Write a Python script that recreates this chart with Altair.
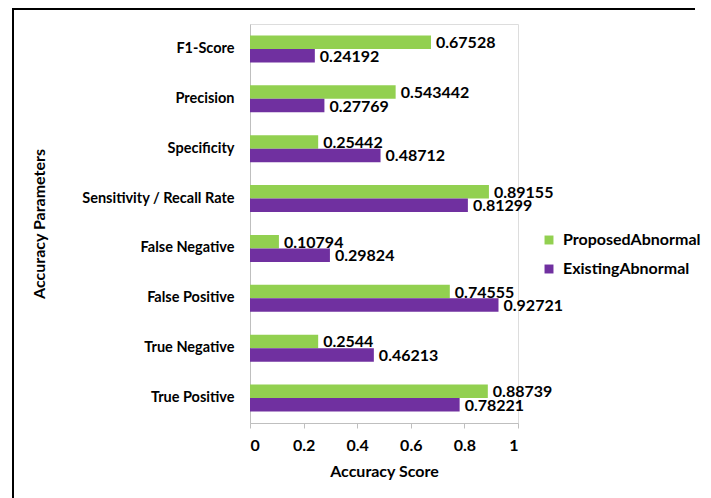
import altair as alt
import pandas as pd

categories = ["F1-Score", "Precision", "Specificity", "Sensitivity / Recall Rate",
              "False Negative", "False Positive", "True Negative", "True Positive"]
proposed = [0.67528, 0.543442, 0.25442, 0.89155, 0.10794, 0.74555, 0.2544, 0.88739]
existing = [0.24192, 0.27769, 0.48712, 0.81299, 0.29824, 0.92721, 0.46213, 0.78221]
series = ["ProposedAbnormal", "ExistingAbnormal"]
labels_p = ["0.67528", "0.543442", "0.25442", "0.89155", "0.10794", "0.74555", "0.2544", "0.88739"]
labels_e = ["0.24192", "0.27769", "0.48712", "0.81299", "0.29824", "0.92721", "0.46213", "0.78221"]

rows = []
for c, p, e, lp, le in zip(categories, proposed, existing, labels_p, labels_e):
    rows.append({"cat": c, "series": series[0], "value": p, "label": lp})
    rows.append({"cat": c, "series": series[1], "value": e, "label": le})
df = pd.DataFrame(rows)

FONT = "Lato"
W, H = 268, 399

y_enc = alt.Y("cat:N", sort=categories, scale=alt.Scale(paddingInner=0.46, paddingOuter=0.23),
              axis=alt.Axis(title="Accuracy Parameters", labelFont=FONT, labelFontSize=14.5,
                            labelFontWeight="bold", labelColor="black", ticks=False,
                            labelPadding=16, domainColor="#bfbfbf", titleFont=FONT,
                            titleFontSize=16, titleFontWeight="bold", titleColor="black",
                            titlePadding=34))
yoff = alt.YOffset("series:N", sort=series, scale=alt.Scale(paddingInner=0, paddingOuter=0))
color = alt.Color("series:N", sort=series,
                  scale=alt.Scale(domain=series, range=["#92D050", "#7030A0"]),
                  legend=alt.Legend(title=None, orient="none", legendX=291, legendY=208,
                                    symbolType="square", symbolSize=80, symbolStrokeWidth=0,
                                    labelFont=FONT, labelFontSize=16, labelFontWeight="bold",
                                    labelColor="black", rowPadding=13, labelOffset=6))

bars = alt.Chart(df).mark_bar().encode(
    x=alt.X("value:Q", scale=alt.Scale(domain=[0, 1], nice=False),
            axis=alt.Axis(title="Accuracy Score", values=[0, 0.2, 0.4, 0.6, 0.8, 1],
                          format="~g", grid=False, labelFont=FONT, labelFontSize=16,
                          labelFontWeight="bold", labelColor="black", tickColor="#bfbfbf",
                          domainColor="#bfbfbf", tickSize=5, labelPadding=9,
                          titleFont=FONT, titleFontSize=16, titleFontWeight="bold",
                          titleColor="black", titlePadding=10)),
    y=y_enc, yOffset=yoff, color=color)

text = alt.Chart(df).mark_text(align="left", baseline="middle", dx=5, dy=1, font=FONT,
                               fontSize=16, fontWeight="bold", color="black").encode(
    x="value:Q", y=alt.Y("cat:N", sort=categories), yOffset=yoff, text="label:N")

border_top = alt.Chart(pd.DataFrame({"a": [0]})).mark_rule(color="black", strokeWidth=2, clip=False).encode(
    x=alt.value(-238), x2=alt.value(445), y=alt.value(-15))
border_left = alt.Chart(pd.DataFrame({"a": [0]})).mark_rule(color="black", strokeWidth=2, clip=False).encode(
    x=alt.value(-237), y=alt.value(-16), y2=alt.value(474))

chart = alt.layer(bars, text, border_top, border_left).properties(
    width=W, height=H, padding={"left": 242, "top": 16, "right": 185, "bottom": 75},
    autosize=alt.AutoSizeParams(type="none")
).configure_view(stroke=None).configure(background="white")

chart.save("out.html", embed_options={"renderer": "svg", "actions": False})
